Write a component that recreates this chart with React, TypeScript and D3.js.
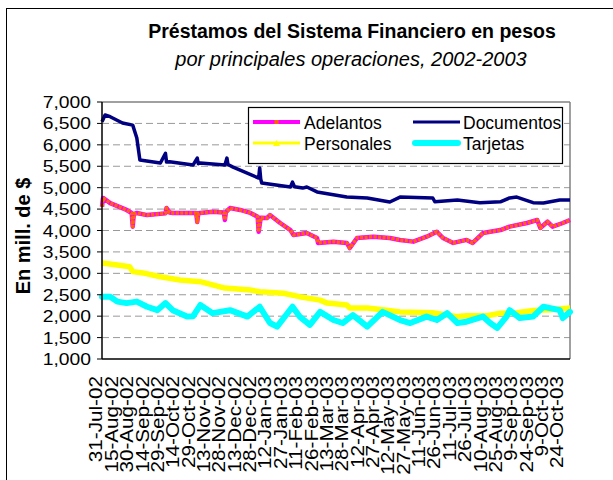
import React from "react";
import * as d3 from "d3";

const TITLE = "Préstamos del Sistema Financiero en pesos";
const SUBTITLE = "por principales operaciones, 2002-2003";
const Y_TITLE = "En mill. de $";

const yTicks = [1000, 1500, 2000, 2500, 3000, 3500, 4000, 4500, 5000, 5500, 6000, 6500, 7000];

const xLabels = [
  "31-Jul-02", "15-Aug-02", "30-Aug-02", "14-Sep-02", "29-Sep-02", "14-Oct-02", "29-Oct-02",
  "13-Nov-02", "28-Nov-02", "13-Dec-02", "28-Dec-02", "12-Jan-03", "27-Jan-03", "11-Feb-03",
  "26-Feb-03", "13-Mar-03", "28-Mar-03", "12-Apr-03", "27-Apr-03", "12-May-03", "27-May-03",
  "11-Jun-03", "26-Jun-03", "11-Jul-03", "26-Jul-03", "10-Aug-03", "25-Aug-03", "9-Sep-03",
  "24-Sep-03", "9-Oct-03", "24-Oct-03",
];

const documentos: [string, number][] = [
  ["2002-07-31", 6540], ["2002-08-03", 6696], ["2002-08-08", 6657], ["2002-08-20", 6510],
  ["2002-08-30", 6460], ["2002-09-03", 6160], ["2002-09-06", 5645], ["2002-09-26", 5575],
  ["2002-10-01", 5800], ["2002-10-02", 5600], ["2002-10-05", 5606], ["2002-10-28", 5530],
  ["2002-11-01", 5690], ["2002-11-02", 5560], ["2002-11-04", 5575], ["2002-11-28", 5530],
  ["2002-11-30", 5690], ["2002-12-01", 5540], ["2002-12-06", 5480], ["2002-12-31", 5225],
  ["2003-01-01", 5460], ["2003-01-02", 5200], ["2003-01-03", 5110], ["2003-01-31", 5015],
  ["2003-02-02", 5130], ["2003-02-04", 5020], ["2003-02-12", 4990], ["2003-02-16", 5015],
  ["2003-02-26", 4900], ["2003-03-27", 4780], ["2003-04-16", 4760], ["2003-05-08", 4665],
  ["2003-05-18", 4780], ["2003-06-19", 4760], ["2003-06-21", 4670], ["2003-07-13", 4710],
  ["2003-08-04", 4650], ["2003-08-24", 4670], ["2003-09-02", 4760], ["2003-09-09", 4780],
  ["2003-09-25", 4650], ["2003-10-05", 4640], ["2003-10-21", 4710], ["2003-10-31", 4710],
];

const adelantos: [string, number][] = [
  ["2002-07-31", 4555], ["2002-08-01", 4760], ["2002-08-08", 4640], ["2002-08-24", 4480],
  ["2002-08-29", 4410], ["2002-08-30", 4090], ["2002-08-31", 4380], ["2002-09-03", 4410],
  ["2002-09-13", 4360], ["2002-10-01", 4400], ["2002-10-02", 4525], ["2002-10-05", 4420],
  ["2002-10-08", 4410], ["2002-10-31", 4410], ["2002-11-01", 4200], ["2002-11-02", 4400],
  ["2002-11-04", 4410], ["2002-11-16", 4440], ["2002-11-27", 4420], ["2002-11-28", 4245],
  ["2002-11-29", 4430], ["2002-12-03", 4525], ["2002-12-13", 4480], ["2002-12-23", 4410],
  ["2002-12-30", 4320], ["2002-12-31", 3970], ["2003-01-02", 4300], ["2003-01-08", 4290],
  ["2003-01-11", 4360], ["2003-01-21", 4175], ["2003-01-31", 4010], ["2003-02-03", 3895],
  ["2003-02-16", 3940], ["2003-02-26", 3825], ["2003-02-27", 3710], ["2003-03-14", 3740],
  ["2003-03-27", 3710], ["2003-03-30", 3590], ["2003-04-06", 3825], ["2003-04-22", 3855],
  ["2003-05-08", 3825], ["2003-05-18", 3780], ["2003-05-31", 3740], ["2003-06-13", 3855],
  ["2003-06-23", 3970], ["2003-06-29", 3825], ["2003-07-09", 3710], ["2003-07-22", 3780],
  ["2003-07-28", 3710], ["2003-08-07", 3940], ["2003-08-24", 4010], ["2003-09-02", 4090],
  ["2003-09-19", 4175], ["2003-09-29", 4245], ["2003-10-02", 4060], ["2003-10-09", 4205],
  ["2003-10-14", 4090], ["2003-10-24", 4175], ["2003-10-31", 4245],
];

const personales: [string, number][] = [
  ["2002-07-31", 3240], ["2002-08-15", 3195], ["2002-08-27", 3155], ["2002-08-30", 3040],
  ["2002-09-09", 3010], ["2002-09-26", 2920], ["2002-10-15", 2845], ["2002-11-04", 2805],
  ["2002-11-28", 2655], ["2002-12-23", 2610], ["2003-01-01", 2570], ["2003-01-24", 2535],
  ["2003-02-09", 2455], ["2003-03-01", 2375], ["2003-03-08", 2305], ["2003-03-27", 2260],
  ["2003-03-30", 2190], ["2003-04-16", 2190], ["2003-05-05", 2140], ["2003-05-18", 2100],
  ["2003-06-19", 2080], ["2003-07-13", 1990], ["2003-07-22", 2010], ["2003-08-11", 2010],
  ["2003-08-24", 2070], ["2003-09-09", 2080], ["2003-09-25", 2130], ["2003-10-11", 2150],
  ["2003-10-31", 2190],
];

const tarjetas: [string, number][] = [
  ["2002-07-31", 2455], ["2002-08-08", 2455], ["2002-08-15", 2340], ["2002-08-24", 2305],
  ["2002-09-03", 2340], ["2002-09-13", 2220], ["2002-09-23", 2140], ["2002-10-01", 2305],
  ["2002-10-08", 2140], ["2002-10-22", 1990], ["2002-10-28", 2000], ["2002-11-04", 2260],
  ["2002-11-16", 2070], ["2002-12-03", 2140], ["2002-12-20", 1990], ["2003-01-01", 2220],
  ["2003-01-11", 1840], ["2003-01-18", 1755], ["2003-02-02", 2220], ["2003-02-09", 1990],
  ["2003-02-19", 1795], ["2003-03-01", 2100], ["2003-03-14", 1910], ["2003-03-23", 1840],
  ["2003-04-02", 2025], ["2003-04-16", 1755], ["2003-05-01", 2100], ["2003-05-18", 1910],
  ["2003-05-28", 1840], ["2003-06-13", 1990], ["2003-06-23", 1910], ["2003-07-03", 2070],
  ["2003-07-13", 1840], ["2003-07-22", 1870], ["2003-08-07", 1990], ["2003-08-14", 1840],
  ["2003-08-21", 1725], ["2003-08-30", 1990], ["2003-09-02", 2140], ["2003-09-12", 1955],
  ["2003-09-25", 1990], ["2003-10-05", 2220], ["2003-10-21", 2140], ["2003-10-24", 1955],
  ["2003-10-31", 2100],
];

const parseISO = d3.timeParse("%Y-%m-%d");
const parseLbl = d3.timeParse("%d-%b-%y");
const FONT = "Arial, 'Liberation Sans', Helvetica, sans-serif";

const L = 102, R = 570, T = 102, B = 359;

export default function App() {
  const x = d3.scaleTime()
    .domain([parseISO("2002-07-31") as Date, parseISO("2003-10-31") as Date])
    .range([L, R]);
  const y = d3.scaleLinear().domain([1000, 7000]).range([B, T]);
  const line = d3.line<[string, number]>()
    .x((d) => x(parseISO(d[0]) as Date))
    .y((d) => y(d[1]));

  return (
    <svg width={613} height={480} style={{ position: "absolute", left: 0, top: 0, background: "#fff" }}
      fontFamily={FONT}>
      <rect x={0} y={0} width={613} height={480} fill="#fff" />
      <rect x={6.5} y={8.5} width={640} height={520} fill="none" stroke="#000" strokeWidth={1} />
      <text x={352} y={38} textAnchor="middle" fontWeight="bold" fontSize={19.5}>{TITLE}</text>
      <text x={351} y={66} textAnchor="middle" fontStyle="italic" fontSize={20}>{SUBTITLE}</text>

      {yTicks.filter((t) => t > 1000 && t < 7000).map((t) => (
        <line key={t} x1={L} x2={R} y1={y(t)} y2={y(t)} stroke="#999" strokeWidth={1} strokeDasharray="7,4" />
      ))}
      <line x1={L} x2={R} y1={T} y2={T} stroke="#808080" strokeWidth={1.5} />
      <line x1={R} x2={R} y1={T} y2={B} stroke="#808080" strokeWidth={1.5} />

      <path d={line(adelantos) || ""} fill="none" stroke="#FF00FF" strokeWidth={4.5} strokeLinejoin="round" />
      <path d={line(adelantos) || ""} fill="none" stroke="#FF6600" strokeWidth={3.5} strokeDasharray="3,1.5" strokeLinejoin="round" />
      <path d={line(documentos) || ""} fill="none" stroke="#000080" strokeWidth={3.5} strokeLinejoin="round" />
      <path d={line(personales) || ""} fill="none" stroke="#FFFF00" strokeWidth={5.5} strokeLinejoin="round" />
      <path d={line(tarjetas) || ""} fill="none" stroke="#00FFFF" strokeWidth={6} strokeLinejoin="round" strokeLinecap="round" />

      <line x1={L} x2={L} y1={T} y2={B} stroke="#000" strokeWidth={1.5} />
      <line x1={L} x2={R} y1={B} y2={B} stroke="#000" strokeWidth={1.5} />
      {yTicks.map((t) => (
        <g key={t}>
          <line x1={L - 5} x2={L} y1={y(t)} y2={y(t)} stroke="#000" strokeWidth={1} />
          <g transform={`translate(${L - 11},${y(t) + 6}) scale(1.17,1)`}>
            <text textAnchor="end" fontSize={16.5}>{d3.format(",")(t)}</text>
          </g>
        </g>
      ))}
      {xLabels.map((lbl) => {
        const px = x(parseLbl(lbl) as Date) - 6;
        return (
          <g key={lbl} transform={`translate(${px},376) rotate(-90) scale(1.15,1)`}>
            <text textAnchor="end" dominantBaseline="central" fontSize={18}>{lbl}</text>
          </g>
        );
      })}

      <text transform="translate(30,236) rotate(-90)" textAnchor="middle" fontWeight="bold" fontSize={20}>{Y_TITLE}</text>

      <rect x={248.5} y={107.5} width={314} height={56} fill="#fff" stroke="#000" strokeWidth={1.2} />
      <line x1={253} x2={300} y1={122} y2={122} stroke="#FF00FF" strokeWidth={4} />
      <rect x={274.5} y={120} width={4} height={4} fill="#FF6600" />
      <text x={304} y={129} fontSize={17.5}>Adelantos</text>
      <line x1={253} x2={300} y1={143} y2={143} stroke="#FFFF00" strokeWidth={3} />
      <path d="M276.5,140 L280,146 L273,146 Z" fill="#FFFF00" />
      <text x={304} y={150} fontSize={17.5}>Personales</text>
      <line x1={413} x2={460} y1={122} y2={122} stroke="#000080" strokeWidth={3} />
      <text x={463} y={129} fontSize={17.5}>Documentos</text>
      <line x1={415} x2={458} y1={143} y2={143} stroke="#00FFFF" strokeWidth={6} strokeLinecap="round" />
      <text x={463} y={150} fontSize={17.5}>Tarjetas</text>
    </svg>
  );
}
